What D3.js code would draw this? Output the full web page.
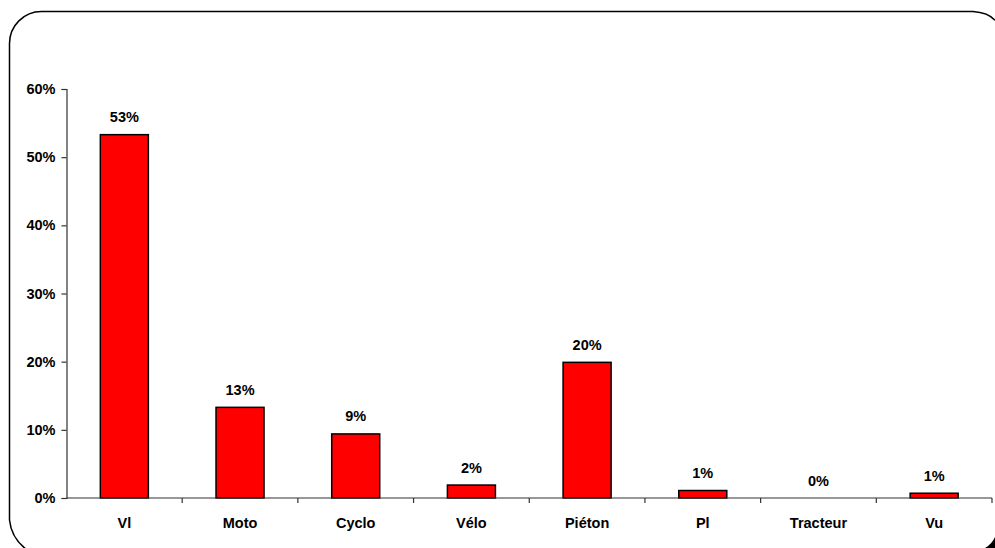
<!DOCTYPE html>
<html>
<head>
<meta charset="utf-8">
<script src="https://cdn.jsdelivr.net/npm/d3@7"></script>
<style>
html,body{margin:0;padding:0;background:#fff;overflow:hidden;}
svg{display:block;overflow:hidden;}
text{font-family:"Liberation Sans",Arial,sans-serif;font-weight:bold;fill:#000;}
</style>
</head>
<body>
<svg id="chart" width="995" height="548"></svg>
<script>
const categories = ["Vl", "Moto", "Cyclo", "Vélo", "Piéton", "Pl", "Tracteur", "Vu"];
const values = [0.533, 0.133, 0.094, 0.019, 0.199, 0.011, 0.0, 0.007];
const valueLabels = ["53%", "13%", "9%", "2%", "20%", "1%", "0%", "1%"];
const yTicks = [0, 0.1, 0.2, 0.3, 0.4, 0.5, 0.6];

const svg = d3.select("#chart");

// frame: open outline (the box continues past the right and bottom edges of the picture)
const r = 32;
const fx = 9.5, fy = 11.5;
const framePath = d3.path();
// top-right arc enters from the right edge
framePath.moveTo(995, fy + r - Math.sqrt(r * r - 22 * 22));
framePath.quadraticCurveTo(988, fy + 1, 973, fy);
framePath.lineTo(fx + r, fy);
framePath.arcTo(fx, fy, fx, fy + r, r);
framePath.lineTo(fx, 520);
framePath.quadraticCurveTo(fx + 2, 540, 30, 552);
svg.append("path").attr("d", framePath.toString()).attr("fill", "none")
  .attr("stroke", "#000").attr("stroke-width", 1.5);
// dark shadow piece in the bottom-right corner
const shadow = d3.path();
shadow.moveTo(985, 548);
shadow.quadraticCurveTo(992, 544, 995, 537);
shadow.lineTo(995, 548);
shadow.closePath();
svg.append("path").attr("d", shadow.toString()).attr("fill", "#000");

const x0 = 66.5, x1 = 992, yTop = 89, yBot = 498;
const x = d3.scaleBand().domain(categories).range([x0, x1]).paddingInner(0.585).paddingOuter(0.2925);
const y = d3.scaleLinear().domain([0, 0.6]).range([yBot, yTop]);

// y axis
const yAxis = d3.axisLeft(y).tickValues(yTicks).tickFormat(d3.format(".0%")).tickSize(5).tickPadding(6);
const gy = svg.append("g").attr("transform", `translate(${x0},0)`).call(yAxis);
gy.select(".domain").attr("stroke", "#333").attr("stroke-width", 1.2);
gy.selectAll(".tick line").attr("stroke", "#333").attr("stroke-width", 1.2);
gy.selectAll(".tick text").style("font-size", "14.5px").attr("font-family", null).attr("fill", "#000");

const rows = categories.map((c, i) => ({c, v: values[i], l: valueLabels[i]}));

// bars
svg.append("g").selectAll("rect").data(rows.filter(d => d.v > 0))
  .join("rect")
  .attr("x", d => x(d.c))
  .attr("y", d => y(d.v))
  .attr("width", x.bandwidth())
  .attr("height", d => yBot - y(d.v))
  .attr("fill", "#ff0000")
  .attr("stroke", "#000")
  .attr("stroke-width", 1.5);

// value labels
svg.append("g").selectAll("text").data(rows)
  .join("text")
  .attr("x", d => x(d.c) + x.bandwidth() / 2)
  .attr("y", d => y(d.v) - 12.5)
  .attr("text-anchor", "middle")
  .style("font-size", "14.5px")
  .text(d => d.l);

// x axis
const step = x.step();
const gx = svg.append("g");
gx.append("line").attr("x1", x0).attr("x2", x1).attr("y1", yBot).attr("y2", yBot)
  .attr("stroke", "#333").attr("stroke-width", 1.2);
gx.selectAll("line.tk").data(categories).join("line").attr("class", "tk")
  .attr("x1", d => x(d) + x.bandwidth() / 2 + step / 2)
  .attr("x2", d => x(d) + x.bandwidth() / 2 + step / 2)
  .attr("y1", yBot).attr("y2", yBot + 5)
  .attr("stroke", "#333").attr("stroke-width", 1.2);
gx.selectAll("text").data(categories).join("text")
  .attr("x", d => x(d) + x.bandwidth() / 2)
  .attr("y", 528)
  .attr("text-anchor", "middle")
  .style("font-size", "14.5px")
  .text(d => d);
</script>
</body>
</html>
